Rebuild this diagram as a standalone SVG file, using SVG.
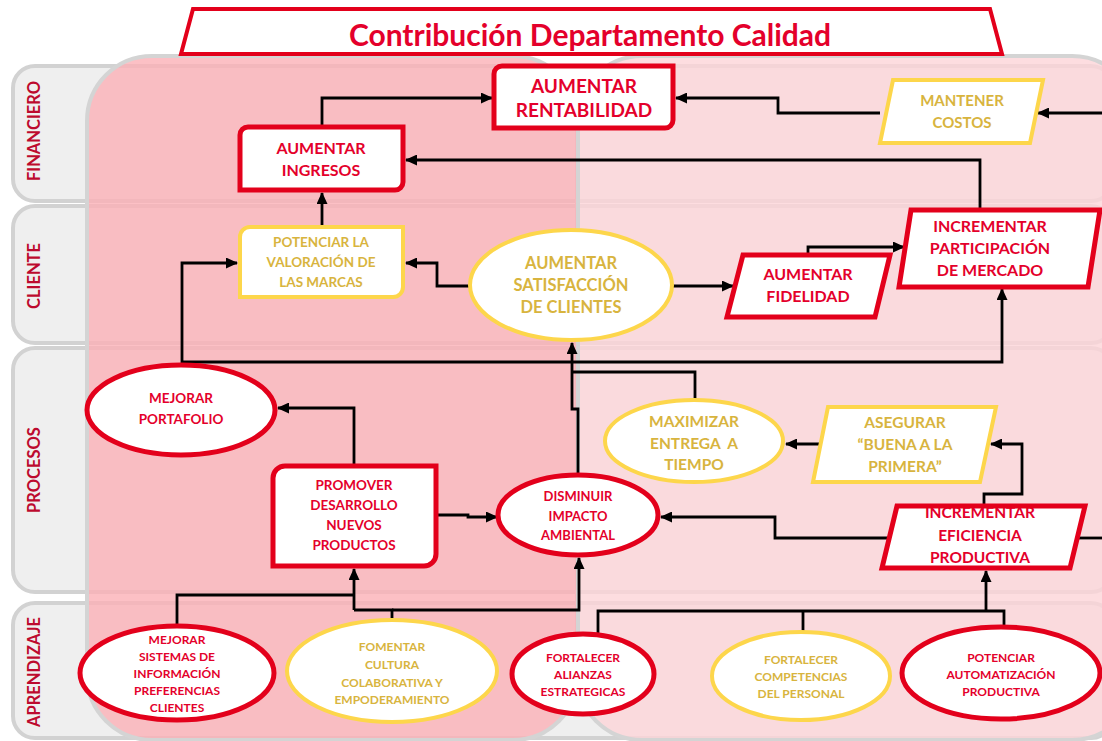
<svg xmlns="http://www.w3.org/2000/svg" width="1102" height="741" viewBox="0 0 1102 741">
  <style>
    .band{fill:#efefef;stroke:#d2d2d2;stroke-width:4}
    .colL{fill:#fbb0b6;fill-opacity:.8;stroke:#d4d4d4;stroke-width:4}
    .colR{fill:#fcd5d8;fill-opacity:.8;stroke:#d4d4d4;stroke-width:4}
    .lbl{fill:#bd0a2e;font-family:Lato,"Liberation Sans",sans-serif;font-weight:700;font-size:16.5px;text-anchor:middle}
    .red{fill:#fff;stroke:#e3001b;stroke-width:5}
    .yel{fill:#fff;stroke:#fdd64b;stroke-width:4}
    .edge{fill:none;stroke:#e3001b;stroke-width:5}
    text.tr,text.ty{font-family:Lato,"Liberation Sans",sans-serif;font-weight:700;text-anchor:middle}
    .tr{fill:#e4002b}
    .ty{fill:#d8b43e}
    #connectors path{fill:none;stroke:#000;stroke-width:2.8}
    #connectors path.arr{marker-end:url(#ah)}
  </style>
  <defs>
    <marker id="ah" markerUnits="userSpaceOnUse" markerWidth="12" markerHeight="11" refX="11" refY="5.5" orient="auto">
      <path d="M0,0 L12,5.5 L0,11 Z" fill="#000"/>
    </marker>
  </defs>

  <rect width="1102" height="741" fill="#fff"/>

  <!-- perspective rows -->
  <g id="rows">
    <rect class="band" x="13" y="66" width="1100" height="135" rx="22"/>
    <rect class="band" x="13" y="206" width="1100" height="137" rx="22"/>
    <rect class="band" x="13" y="348" width="1100" height="244" rx="22"/>
    <rect class="band" x="13" y="603" width="1100" height="135" rx="22"/>
  </g>

  <!-- columns -->
  <g id="columns">
    <rect class="colR" x="577" y="56" width="560" height="684" rx="65"/>
    <rect class="colL" x="87" y="56" width="491" height="684" rx="65"/>
  </g>

  <g id="row-labels">
    <text class="lbl" transform="translate(40,131) rotate(-90)">FINANCIERO</text>
    <text class="lbl" transform="translate(40,276) rotate(-90)">CLIENTE</text>
    <text class="lbl" transform="translate(40,470) rotate(-90)">PROCESOS</text>
    <text class="lbl" transform="translate(40,672) rotate(-90)">APRENDIZAJE</text>
  </g>

  <g id="title">
    <polygon points="193,9 990,9 1002,54 181,54" fill="#fff" stroke="#e3001b" stroke-width="4"/>
    <text class="tr" x="590" y="46" font-size="30">Contribución Departamento Calidad</text>
  </g>

  <g id="connectors">
    <path class="arr" d="M322,127 V98 H492"/>
    <path class="arr" d="M880,113 H778 V98 H676"/>
    <path class="arr" d="M1102,113 H1038"/>
    <path class="arr" d="M980,210 V160 H406"/>
    <path class="arr" d="M322,227 V193"/>
    <path class="arr" d="M470,286 H437 V263 H406"/>
    <path class="arr" d="M182,365 V263 H237"/>
    <path class="arr" d="M182,362 H1002 V289"/>
    <path class="arr" d="M672,286 H733"/>
    <path class="arr" d="M808,255 V247 H904"/>
    <path class="arr" d="M578,475 V409 H572 V343"/>
    <path d="M695,400 V372 H572"/>
    <path class="arr" d="M436,515 H468 V517 H497"/>
    <path class="arr" d="M354,466 V408 H278"/>
    <path class="arr" d="M889,538 H775 V517 H661"/>
    <path class="arr" d="M984,506 V494 H1022 V444 H991"/>
    <path class="arr" d="M820,444 H786"/>
    <path d="M1076,538 H1102"/>
    <path d="M177,626 V595 H354"/>
    <path d="M392,620 V610 H354"/>
    <path class="arr" d="M354,610 V569"/>
    <path class="arr" d="M392,610 H579 V558"/>
    <path d="M598,635 V611 H1004 V628"/>
    <path d="M803,611 V632"/>
    <path class="arr" d="M986,611 V571"/>
  </g>

  <!-- FINANCIERO -->
  <g id="aumentar-rentabilidad">
    <path class="red" d="M502,66 H673 V120 A8,8 0 0 1 665,128 H494 V74 A8,8 0 0 1 502,66 Z"/>
    <text class="tr" font-size="19"><tspan x="584" y="93">AUMENTAR</tspan><tspan x="584" y="117">RENTABILIDAD</tspan></text>
  </g>
  <g id="aumentar-ingresos">
    <path class="red" d="M248,127 H403 V182 A8,8 0 0 1 395,190 H240 V135 A8,8 0 0 1 248,127 Z"/>
    <text class="tr" font-size="16"><tspan x="321" y="154">AUMENTAR</tspan><tspan x="321" y="176">INGRESOS</tspan></text>
  </g>
  <g id="mantener-costos">
    <polygon class="yel" points="893,80 1043,80 1030,143 880,143"/>
    <text class="ty" font-size="15"><tspan x="962" y="106">MANTENER</tspan><tspan x="962" y="128">COSTOS</tspan></text>
  </g>

  <!-- CLIENTE -->
  <g id="potenciar-valoracion">
    <path class="yel" d="M250,227 H403 V287 A10,10 0 0 1 393,297 H240 V237 A10,10 0 0 1 250,227 Z"/>
    <text class="ty" font-size="13.5"><tspan x="321" y="247">POTENCIAR LA</tspan><tspan x="321" y="267">VALORACIÓN DE</tspan><tspan x="321" y="287">LAS MARCAS</tspan></text>
  </g>
  <g id="aumentar-satisfaccion">
    <ellipse class="yel" cx="571" cy="285" rx="101" ry="55"/>
    <text class="ty" font-size="16.5"><tspan x="571" y="269">AUMENTAR</tspan><tspan x="571" y="291">SATISFACCIÓN</tspan><tspan x="571" y="313">DE CLIENTES</tspan></text>
  </g>
  <g id="aumentar-fidelidad">
    <polygon class="red" points="743,255 890,255 875,317 727,317"/>
    <text class="tr" font-size="16"><tspan x="808" y="280">AUMENTAR</tspan><tspan x="808" y="302">FIDELIDAD</tspan></text>
  </g>
  <g id="incrementar-participacion">
    <polygon class="red" points="911,210 1100,210 1088,287 899,287"/>
    <text class="tr" font-size="16"><tspan x="990" y="232">INCREMENTAR</tspan><tspan x="990" y="254">PARTICIPACIÓN</tspan><tspan x="990" y="276">DE MERCADO</tspan></text>
  </g>

  <!-- PROCESOS -->
  <g id="mejorar-portafolio">
    <ellipse class="red" cx="181" cy="410" rx="94" ry="45"/>
    <text class="tr" font-size="13.5"><tspan x="181" y="403">MEJORAR</tspan><tspan x="181" y="424">PORTAFOLIO</tspan></text>
  </g>
  <g id="promover-desarrollo">
    <path class="red" d="M285,466 H436 V554 A12,12 0 0 1 424,566 H273 V478 A12,12 0 0 1 285,466 Z"/>
    <text class="tr" font-size="13.5"><tspan x="354" y="490">PROMOVER</tspan><tspan x="354" y="510">DESARROLLO</tspan><tspan x="354" y="530">NUEVOS</tspan><tspan x="354" y="550">PRODUCTOS</tspan></text>
  </g>
  <g id="disminuir-impacto">
    <ellipse class="red" cx="578" cy="515" rx="80" ry="40"/>
    <text class="tr" font-size="13"><tspan x="578" y="501">DISMINUIR</tspan><tspan x="578" y="521">IMPACTO</tspan><tspan x="578" y="540">AMBIENTAL</tspan></text>
  </g>
  <g id="maximizar-entrega">
    <ellipse class="yel" cx="694" cy="441" rx="89" ry="41"/>
    <text class="ty" font-size="15.5" xml:space="preserve"><tspan x="694" y="427">MAXIMIZAR</tspan><tspan x="694" y="449">ENTREGA  A</tspan><tspan x="694" y="470">TIEMPO</tspan></text>
  </g>
  <g id="asegurar-buena">
    <polygon class="yel" points="828,407 996,407 980,482 813,482"/>
    <text class="ty" font-size="15.5"><tspan x="905" y="428">ASEGURAR</tspan><tspan x="905" y="450">“BUENA A LA</tspan><tspan x="905" y="472">PRIMERA”</tspan></text>
  </g>
  <g id="incrementar-eficiencia">
    <polygon points="897,506 1085,506 1070,568 882,568" fill="#fff"/>
    <text class="tr" font-size="15.5"><tspan x="980" y="518">INCREMENTAR</tspan><tspan x="980" y="541">EFICIENCIA</tspan><tspan x="980" y="563">PRODUCTIVA</tspan></text>
    <polygon class="edge" points="897,506 1085,506 1070,568 882,568"/>
  </g>

  <!-- APRENDIZAJE -->
  <g id="mejorar-sistemas">
    <ellipse class="red" cx="177" cy="673" rx="97" ry="47"/>
    <text class="tr" font-size="12"><tspan x="177" y="644">MEJORAR</tspan><tspan x="177" y="661">SISTEMAS DE</tspan><tspan x="177" y="678">INFORMACIÓN</tspan><tspan x="177" y="695">PREFERENCIAS</tspan><tspan x="177" y="712">CLIENTES</tspan></text>
  </g>
  <g id="fomentar-cultura">
    <ellipse class="yel" cx="392" cy="671" rx="105" ry="51"/>
    <text class="ty" font-size="12"><tspan x="392" y="651">FOMENTAR</tspan><tspan x="392" y="669">CULTURA</tspan><tspan x="392" y="687">COLABORATIVA Y</tspan><tspan x="392" y="704">EMPODERAMIENTO</tspan></text>
  </g>
  <g id="fortalecer-alianzas">
    <ellipse class="red" cx="583" cy="674" rx="71" ry="40"/>
    <text class="tr" font-size="12"><tspan x="583" y="662">FORTALECER</tspan><tspan x="583" y="679">ALIANZAS</tspan><tspan x="583" y="696">ESTRATEGICAS</tspan></text>
  </g>
  <g id="fortalecer-competencias">
    <ellipse class="yel" cx="801" cy="676" rx="89" ry="44"/>
    <text class="ty" font-size="12"><tspan x="801" y="664">FORTALECER</tspan><tspan x="801" y="681">COMPETENCIAS</tspan><tspan x="801" y="698">DEL PERSONAL</tspan></text>
  </g>
  <g id="potenciar-automatizacion">
    <ellipse class="red" cx="1001" cy="673" rx="99" ry="46"/>
    <text class="tr" font-size="12"><tspan x="1001" y="662">POTENCIAR</tspan><tspan x="1001" y="679">AUTOMATIZACIÓN</tspan><tspan x="1001" y="696">PRODUCTIVA</tspan></text>
  </g>
</svg>
